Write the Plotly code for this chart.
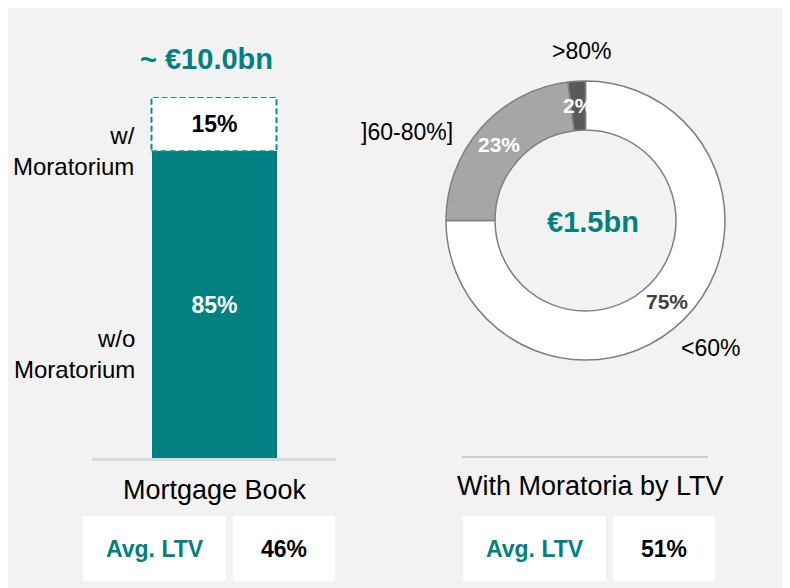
import math
import plotly.graph_objects as go

W, H = 782, 580
OFF = 8  # page body margin
FONT = "Liberation Sans, Arial, sans-serif"
TEAL = "#008080"

# ---- data ----
bar_category = ["Mortgage Book"]
bar_series = ["w/o Moratorium", "w/ Moratorium"]
bar_values = [85, 15]
bar_total_label = "~ €10.0bn"

ltv_labels = ["<60%", "]60-80%]", ">80%"]
ltv_values = [75, 23, 2]
donut_total_label = "€1.5bn"

avg_ltv_book = "46%"
avg_ltv_moratoria = "51%"


def px(x):
    return (x - OFF) / W


def py(y):
    return 1 - (y - OFF) / H


fig = go.Figure()

BAR_W = 125 / 244
bar_colors = [TEAL, "white"]
bar_text_colors = ["white", "black"]
for name, val, col, tcol in zip(bar_series, bar_values, bar_colors, bar_text_colors):
    fig.add_trace(go.Bar(
        x=[0], y=[val], name=name, width=BAR_W,
        marker=dict(color=col, line=dict(width=0)),
        text=[f"{val}%"], textposition="inside", insidetextanchor="middle",
        textangle=0,
        textfont=dict(family=FONT, size=23, color=tcol, weight="bold"),
        xaxis="x", yaxis="y", showlegend=False, hoverinfo="skip",
    ))

y0 = bar_values[0]
y1 = bar_values[0] + bar_values[1]
shapes = []
# dashed outline around the "w/ Moratorium" segment (from data)
shapes.append(dict(type="rect", xref="x", yref="y", x0=-BAR_W / 2, x1=BAR_W / 2, y0=y0, y1=y1,
                   line=dict(color="#148b8b", width=2, dash="6px,3px"), fillcolor="rgba(0,0,0,0)",
                   layer="above"))
# right baseline
shapes.append(dict(type="line", xref="paper", yref="paper", x0=px(462), x1=px(708), y0=py(457), y1=py(457),
                   line=dict(color="#bfbfbf", width=1.5)))
# LTV boxes
for (a, b) in [(83, 226), (233, 335), (463, 606), (613, 715)]:
    shapes.append(dict(type="rect", xref="paper", yref="paper", x0=px(a), x1=px(b), y0=py(581), y1=py(516),
                       fillcolor="white", line=dict(width=0), layer="below"))

# donut
CX, CY, R_OUT, R_IN = 585.5, 220.5, 139.5, 90.5
fig.add_trace(go.Pie(
    labels=ltv_labels, values=ltv_values, sort=False, direction="clockwise", rotation=0,
    hole=R_IN / R_OUT,
    marker=dict(colors=["white", "#a6a6a6", "#595959"], line=dict(color="#7f7f7f", width=1.5)),
    textinfo="none", hoverinfo="skip", showlegend=False,
    domain=dict(x=[px(CX - R_OUT), px(CX + R_OUT)], y=[py(CY + R_OUT), py(CY - R_OUT)]),
))

ann = []


def add_text(text, x, y, size, color="black", bold=False, xanchor="center", align="center"):
    ann.append(dict(text=text, x=px(x), y=py(y), xref="paper", yref="paper", showarrow=False,
                    xanchor=xanchor, yanchor="middle", align=align,
                    font=dict(family=FONT, size=size, color=color, weight="bold" if bold else "normal")))


# donut inside labels at slice midpoints
total = sum(ltv_values)
cum = 0
label_colors = ["#404040", "white", "white"]
r_mid = (R_OUT + R_IN) / 2
for v, c in zip(ltv_values, label_colors):
    mid = (cum + v / 2) / total * 2 * math.pi
    cum += v
    add_text(f"{v}%", CX + r_mid * math.sin(mid), CY - r_mid * math.cos(mid), 21, c, True)

# outside labels
add_text(ltv_labels[2], 581.5, 51, 23)
add_text(ltv_labels[1], 406.5, 132, 23)
add_text(ltv_labels[0], 710, 348, 23)
add_text(donut_total_label, 593, 222, 29, TEAL, True)

add_text(bar_total_label, 206.5, 59, 29, TEAL, True)
add_text("w/<br>Moratorium", 137, 151, 24, xanchor="right", align="right")
add_text("w/o<br>Moratorium", 137, 354, 24, xanchor="right", align="right")
add_text(bar_category[0], 214.5, 490, 27)
add_text("With Moratoria by LTV", 590, 486, 27)

add_text("Avg. LTV", 154.5, 549, 23, TEAL, True)
add_text(avg_ltv_book, 284, 549, 23, "black", True)
add_text("Avg. LTV", 534.5, 549, 23, TEAL, True)
add_text(avg_ltv_moratoria, 664, 549, 23, "black", True)

fig.update_layout(
    width=W, height=H, margin=dict(l=0, r=0, t=0, b=0),
    paper_bgcolor="#f2f2f2", plot_bgcolor="rgba(0,0,0,0)",
    barmode="stack", bargap=0,
    xaxis=dict(domain=[px(92), px(336)], range=[-0.5, 0.5], type="linear",
               showgrid=False, zeroline=False, showticklabels=False, ticks="",
               showline=True, linecolor="#d9d9d9", linewidth=2.5, fixedrange=True),
    yaxis=dict(domain=[py(458), py(97)], range=[0, 100], showgrid=False, zeroline=False,
               showticklabels=False, ticks="", showline=False, fixedrange=True),
    shapes=shapes, annotations=ann,
)

fig.write_html("out.html")
